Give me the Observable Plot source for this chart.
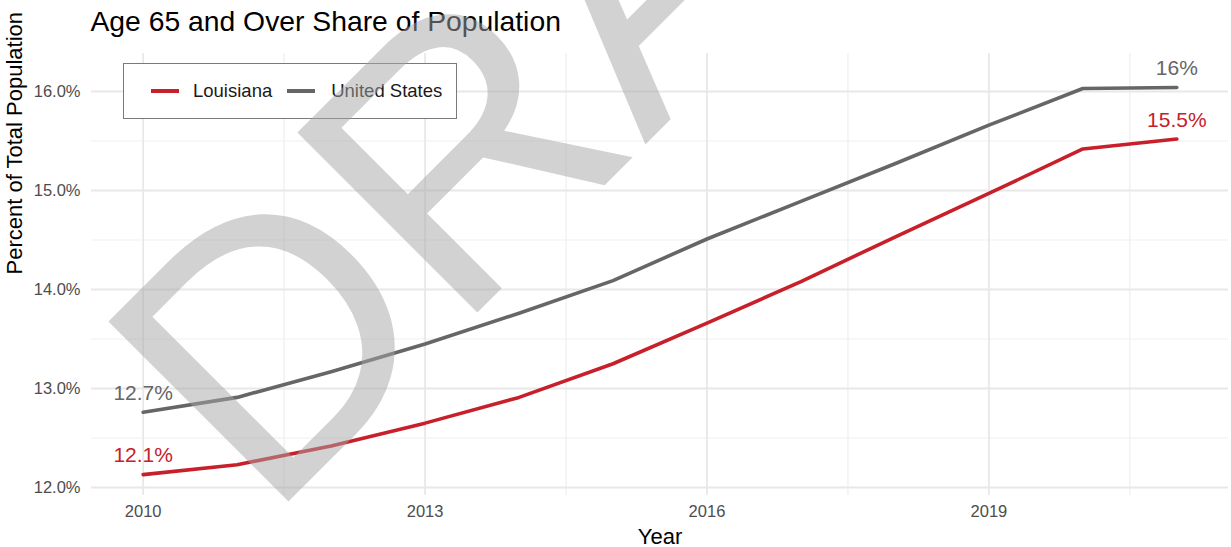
<!DOCTYPE html>
<html>
<head>
<meta charset="utf-8">
<script src="https://cdn.jsdelivr.net/npm/d3@7"></script>
<script src="https://cdn.jsdelivr.net/npm/@observablehq/plot@0.6"></script>
<style>
  html, body { margin: 0; padding: 0; background: #fff; }
  #wrap { position: relative; width: 1231px; height: 547px; overflow: hidden; font-family: "Liberation Sans", Arial, sans-serif; }
  #legend {
    position: absolute; left: 123px; top: 63px; width: 332px; height: 54px;
    border: 1.5px solid #7a7a7a; background: #fff;
    display: flex; align-items: center; box-sizing: content-box;
    font-size: 18.5px; color: #1a1a1a; white-space: nowrap;
  }
  .key { display: inline-block; width: 28px; height: 3.5px; margin-left: 27px; margin-right: 14px; }
  .key2 { margin-left: 15px; margin-right: 16px; }
  #watermark { position: absolute; left: 0; top: 0; pointer-events: none; }
</style>
</head>
<body>
<div id="wrap"></div>
<script>
// ---- data ----
const years = [2010, 2011, 2012, 2013, 2014, 2015, 2016, 2017, 2018, 2019, 2020, 2021];
const louisiana = [12.13, 12.23, 12.42, 12.65, 12.91, 13.25, 13.66, 14.08, 14.53, 14.97, 15.42, 15.52];
const unitedStates = [12.76, 12.91, 13.17, 13.45, 13.76, 14.09, 14.51, 14.89, 15.27, 15.66, 16.03, 16.04];
const seriesNames = ["Louisiana", "United States"];
const seriesColors = ["#c8202b", "#666666"];
const xTicks = [2010, 2013, 2016, 2019];
const yTicks = [12, 13, 14, 15, 16];
const startLabels = ["12.1%", "12.7%"];
const endLabels = ["15.5%", "16%"];
const titleText = "Age 65 and Over Share of Population";
const xTitle = "Year";
const yTitle = "Percent of Total Population";
const watermarkText = "DRAFT";

// ---- table ----
const rows = [];
years.forEach((yr, i) => {
  rows.push({year: yr, value: louisiana[i], series: seriesNames[0]});
  rows.push({year: yr, value: unitedStates[i], series: seriesNames[1]});
});
const vals = [louisiana, unitedStates];
const labelRows = [];
seriesNames.forEach((s, k) => {
  labelRows.push({year: years[0], value: vals[k][0], series: s, text: startLabels[k]});
  labelRows.push({year: years[years.length - 1], value: vals[k][vals[k].length - 1], series: s, text: endLabels[k]});
});
const xMinor = xTicks.map(t => t + 1.5);
const yMinor = yTicks.slice(0, -1).map(t => t + 0.5);
const font = "Liberation Sans, Arial, sans-serif";

const chart = Plot.plot({
  width: 1231,
  height: 547,
  marginLeft: 91,
  marginRight: 3,
  marginTop: 53,
  marginBottom: 52,
  style: {fontFamily: font, background: "transparent", overflow: "visible"},
  x: {domain: [2009.45, 2021.55]},
  y: {domain: [11.919, 16.384]},
  color: {domain: seriesNames, range: seriesColors},
  marks: [
    Plot.gridX(xMinor, {stroke: "#efefef", strokeOpacity: 1, strokeWidth: 1.2}),
    Plot.gridY(yMinor, {stroke: "#efefef", strokeOpacity: 1, strokeWidth: 1.2}),
    Plot.gridX(xTicks, {stroke: "#e8e8e8", strokeOpacity: 1, strokeWidth: 1.8}),
    Plot.gridY(yTicks, {stroke: "#e8e8e8", strokeOpacity: 1, strokeWidth: 1.8}),
    Plot.axisX({ticks: xTicks, tickSize: 0, tickPadding: 10, fontSize: 16.5, color: "#4d4d4d", tickFormat: d => String(d), label: null}),
    Plot.axisY({ticks: yTicks, tickSize: 0, tickPadding: 11, fontSize: 16.5, color: "#4d4d4d", tickFormat: d => d.toFixed(1) + "%", label: null}),
    Plot.line(rows, {x: "year", y: "value", z: "series", stroke: "series", strokeWidth: 3.6, curve: "linear"}),
    Plot.text(labelRows, {x: "year", y: "value", text: "text", fill: "series", fontSize: 21, dy: -19}),
    Plot.text([xTitle], {frameAnchor: "bottom", dy: 48, fontSize: 22, fill: "#000", text: d => d}),
    Plot.text([yTitle], {frameAnchor: "left", dx: -77, rotate: -90, fontSize: 22, fill: "#000", text: d => d}),
    Plot.text([titleText], {frameAnchor: "top-left", dx: -1, dy: -43, fontSize: 28.3, fill: "#000", textAnchor: "start", text: d => d})
  ]
});

const wrap = document.getElementById("wrap");
wrap.appendChild(chart);

// legend
const legend = document.createElement("div");
legend.id = "legend";
seriesNames.forEach((s, k) => {
  const key = document.createElement("span");
  key.className = "key" + (k ? " key2" : "");
  key.style.background = seriesColors[k];
  const lab = document.createElement("span");
  lab.textContent = s;
  legend.appendChild(key);
  legend.appendChild(lab);
});
wrap.appendChild(legend);

// watermark overlay
const ns = "http://www.w3.org/2000/svg";
const wm = document.createElementNS(ns, "svg");
wm.setAttribute("id", "watermark");
wm.setAttribute("width", 1231);
wm.setAttribute("height", 547);
const t = document.createElementNS(ns, "text");
t.setAttribute("x", 703);
t.setAttribute("y", 87);
t.setAttribute("text-anchor", "middle");
t.setAttribute("transform", "rotate(-45 703 87)");
t.setAttribute("font-family", font);
t.setAttribute("font-size", 370);
t.setAttribute("fill", "#a6a6a6");
t.setAttribute("fill-opacity", 0.5);
t.textContent = watermarkText;
wm.appendChild(t);
wrap.appendChild(wm);
</script>
</body>
</html>
